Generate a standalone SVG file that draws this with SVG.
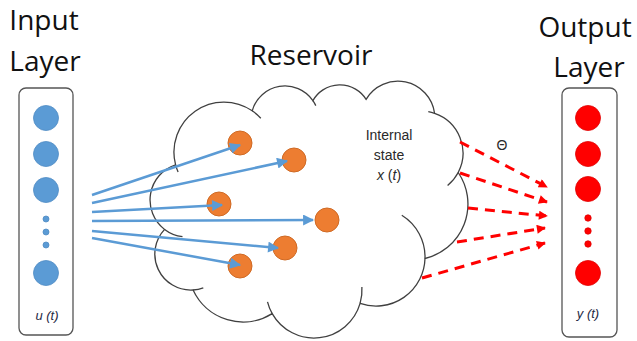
<svg xmlns="http://www.w3.org/2000/svg" width="637" height="341" viewBox="0 0 637 341">
<defs>
<style>
.title{font-family:"Open Sans","Liberation Sans",sans-serif;font-size:28px;fill:#111;}
.lbl{font-family:"Liberation Sans",Arial,sans-serif;font-size:14px;fill:#2a2a2a;}
.var{font-family:"Liberation Sans",Arial,sans-serif;font-size:13px;font-style:italic;fill:#1f2a44;}
.box{fill:#fff;stroke:#555;stroke-width:1.3;}
.cloud{fill:#fff;stroke:#404040;stroke-width:1.3;}
.hook{fill:none;stroke:#404040;stroke-width:1.3;}
.in{fill:#5B9BD5;stroke:#4F8BC4;stroke-width:0.8;}
.out{fill:#FF0000;stroke:#E00000;stroke-width:0.8;}
.res{fill:#ED7D31;stroke:#CF6A25;stroke-width:1;}
.blue{stroke:#5B9BD5;stroke-width:2.5;fill:none;marker-end:url(#ab);}
.red{stroke:#FF0000;stroke-width:3;fill:none;stroke-dasharray:10 7;marker-end:url(#ar);}
</style>
<marker id="ab" viewBox="0 0 10 10" refX="9" refY="5" markerWidth="5" markerHeight="4.4" orient="auto" markerUnits="strokeWidth">
<path d="M0,0 L10,5 L0,10 z" fill="#5B9BD5"/>
</marker>
<marker id="ar" viewBox="0 0 10 10" refX="9" refY="5" markerWidth="3.4" markerHeight="3" orient="auto" markerUnits="strokeWidth">
<path d="M0,0 L10,5 L0,10 z" fill="#FF0000"/>
</marker>
</defs>
<rect width="637" height="341" fill="#fff"/>

<g id="reservoir">
<path class="cloud" d="M175.6,164.8 A50,50 0 0 1 252.2,110.8 A34,34 0 0 1 312.9,100.6 A31,31 0 0 1 366.1,99.3 A37,37 0 0 1 434.6,113.4 A42,42 0 0 1 458.2,172.5 A56,56 0 0 1 425,258.5 A49,49 0 0 1 360.1,303.4 A48,48 0 0 1 272.2,313.6 A55,55 0 0 1 193.1,290 A36,36 0 0 1 164.6,229.4 A37,37 0 0 1 175.6,164.8 Z"/>
<path class="hook" d="M175.6,164.8 A50,50 0 0 0 178.1,171.9"/>
<path class="hook" d="M252.2,110.8 A50,50 0 0 1 260.8,118.2"/>
<path class="hook" d="M312.9,100.6 A34,34 0 0 1 315.8,105.6"/>
<path class="hook" d="M434.6,113.4 A42,42 0 0 0 428.3,111.6"/>
<path class="hook" d="M458.2,172.5 A42,42 0 0 1 447.6,185.5"/>
<path class="hook" d="M425,258.5 A49,49 0 0 0 401.8,215.3"/>
<path class="hook" d="M360.1,303.4 A48,48 0 0 0 361.9,287"/>
<path class="hook" d="M272.2,313.6 A48,48 0 0 1 267.5,301.8"/>
<path class="hook" d="M193.1,290 A36,36 0 0 0 203.3,287.8"/>
<path class="hook" d="M164.6,229.4 A37,37 0 0 0 182.5,236.7"/>
<text class="title" x="311" y="65" text-anchor="middle">Reservoir</text>
<text class="lbl" x="389" y="140" text-anchor="middle">Internal</text>
<text class="lbl" x="389" y="160" text-anchor="middle">state</text>
<text class="lbl" x="389" y="180" text-anchor="middle"><tspan font-style="italic">x</tspan> (<tspan font-style="italic">t</tspan>)</text>
</g>

<g id="reservoir-nodes">
<circle class="res" cx="240" cy="143" r="12"/>
<circle class="res" cx="294" cy="160" r="12"/>
<circle class="res" cx="219" cy="204" r="12"/>
<circle class="res" cx="327" cy="220" r="12"/>
<circle class="res" cx="285" cy="248" r="12"/>
<circle class="res" cx="240" cy="266" r="12"/>
</g>

<g id="input-layer">
<text class="title" x="44" y="30" text-anchor="middle">Input</text>
<text class="title" x="45" y="71" text-anchor="middle">Layer</text>
<rect class="box" x="19" y="88" width="54" height="247" rx="7"/>
<circle class="in" cx="46" cy="118" r="12.5"/>
<circle class="in" cx="46" cy="154" r="12.5"/>
<circle class="in" cx="46" cy="190" r="12.5"/>
<circle class="in" cx="46" cy="219" r="3"/>
<circle class="in" cx="46" cy="232" r="3"/>
<circle class="in" cx="46" cy="245" r="3"/>
<circle class="in" cx="46" cy="273" r="12.5"/>
<text class="var" x="47" y="320" text-anchor="middle">u (t)</text>
</g>

<g id="output-layer">
<text class="title" x="585" y="37" text-anchor="middle">Output</text>
<text class="title" x="589" y="77" text-anchor="middle">Layer</text>
<rect class="box" x="562" y="88" width="55" height="249" rx="7"/>
<circle class="out" cx="588" cy="118" r="12.5"/>
<circle class="out" cx="588" cy="154" r="12.5"/>
<circle class="out" cx="588" cy="189" r="12.5"/>
<circle class="out" cx="588" cy="218" r="3.2"/>
<circle class="out" cx="588" cy="231" r="3.2"/>
<circle class="out" cx="588" cy="244" r="3.2"/>
<circle class="out" cx="588" cy="273" r="12.5"/>
<text class="var" x="588" y="318" text-anchor="middle">y (t)</text>
</g>

<g id="connectors">
<line class="blue" x1="92" y1="195" x2="240" y2="145"/>
<line class="blue" x1="92" y1="203" x2="287" y2="161"/>
<line class="blue" x1="92" y1="212" x2="222" y2="205"/>
<line class="blue" x1="92" y1="221" x2="313" y2="220"/>
<line class="blue" x1="92" y1="231" x2="278" y2="248"/>
<line class="blue" x1="92" y1="238" x2="240" y2="265"/>
<line class="red" x1="460" y1="142" x2="547" y2="187"/>
<line class="red" x1="460" y1="173" x2="547" y2="202"/>
<line class="red" x1="468" y1="208" x2="547" y2="216"/>
<line class="red" x1="457" y1="242" x2="545" y2="228"/>
<line class="red" x1="422" y1="278" x2="545" y2="243"/>
<text class="lbl" x="502" y="150" text-anchor="middle">Θ</text>
</g>
</svg>
